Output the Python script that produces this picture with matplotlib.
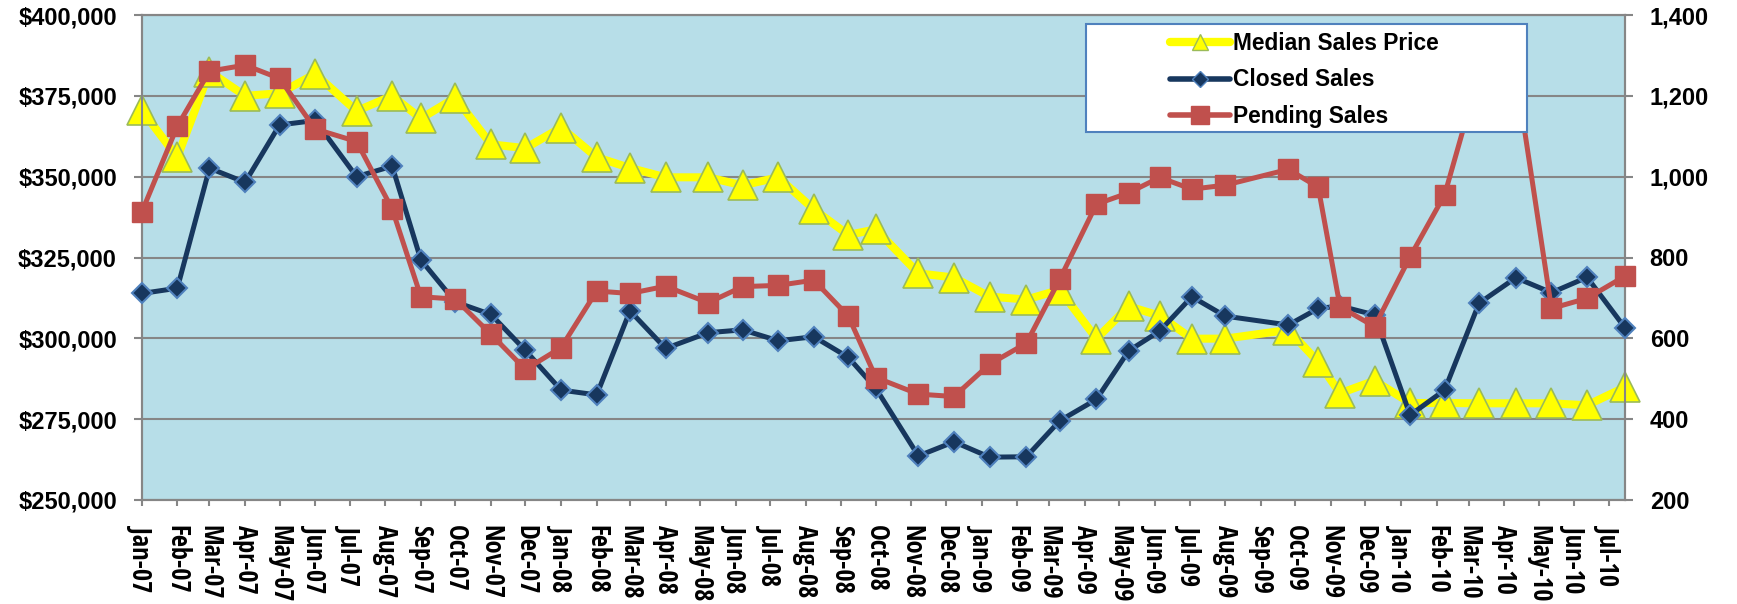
import matplotlib
matplotlib.use('Agg')
import matplotlib.pyplot as plt
import matplotlib.dates as mdates
import matplotlib.font_manager as fm
from matplotlib.lines import Line2D
from matplotlib.patches import Rectangle
from matplotlib.ticker import FuncFormatter
import numpy as np

# data (x positions follow the report dates, not always the 1st)
dates = ['2007-01-01', '2007-02-01', '2007-03-01', '2007-04-01', '2007-05-01', '2007-06-01',
         '2007-07-07', '2007-08-07', '2007-09-01', '2007-10-01', '2007-11-01', '2007-12-01',
         '2008-01-01', '2008-02-01', '2008-03-01', '2008-04-01', '2008-05-08', '2008-06-07',
         '2008-07-08', '2008-08-08', '2008-09-07', '2008-10-01', '2008-11-07', '2008-12-08',
         '2009-01-08', '2009-02-09', '2009-03-10', '2009-04-11', '2009-05-09', '2009-06-05',
         '2009-07-03', '2009-08-01', '2009-09-25', '2009-10-21', '2009-11-09', '2009-12-09',
         '2010-01-09', '2010-02-08', '2010-03-10', '2010-04-11', '2010-05-12', '2010-06-12',
         '2010-07-15']

median_price = [370600, 356000, 382500, 375000, 375800, 381800, 370300, 375000, 368000, 374400,
                360000, 358800, 365200, 356000, 352700, 349800, 349800, 347300, 349800, 339900,
                332000, 333700, 320100, 318800, 312900, 312000, 315000, 299900, 309900, 307000,
                299900, 299900, 302600, 292700, 283000, 286900, 280000, 280000, 279900, 279900,
                279900, 279300, 284900]

closed_sales = [711, 724, 1021, 986, 1128, 1139, 1000, 1026, 794, 690, 659, 570,
                472, 460, 668, 575, 614, 621, 594, 604, 553, 476, 309, 344,
                306, 307, 396, 449, 569, 618, 703, 655, 633, 674, 680, 658,
                410, 472, 687, 750, 713, 751, 626]

pending_sales = [912, 1125, 1261, 1276, 1243, 1118, 1087, 920, 703, 697, 610, 523,
                 577, 717, 711, 729, 688, 728, 731, 744, 655, 503, 462, 456,
                 536, 588, 746, 932, 960, 998, 969, 979, 1018, 974, 678, 629,
                 802, 955, 1255, 1258, 674, 699, 754]

series_names = ['Median Sales Price', 'Closed Sales', 'Pending Sales']

avail = {f.name for f in fm.fontManager.ttflist}


def pick(*names):
    for n in names:
        if n in avail:
            return n
    return None


main_font = pick('Liberation Sans', 'Arial') or 'DejaVu Sans'
narrow_font = pick('Liberation Sans Narrow', 'Open Sans Condensed', 'Roboto Condensed')
xsize = 19 if narrow_font else 14
narrow_font = narrow_font or 'DejaVu Sans'

plt.rcParams['font.family'] = [main_font, 'DejaVu Sans']
plt.rcParams['font.weight'] = 'bold'

x = mdates.datestr2num(dates)
grey = '#868686'

fig = plt.figure(figsize=(17.37, 6.04), dpi=100)
ax1 = fig.add_axes([141.7 / 1737, 104 / 604, 1483.3 / 1737, 485 / 604])
ax1.set_facecolor('#B7DEE8')
ax2 = ax1.twinx()

ax1.plot(x, median_price, color='#FFFF00', lw=5.8, marker='^', ms=21,
         mfc='#FFFF00', mec='#9BBB59', mew=1.2, clip_on=False, zorder=3)
ax2.plot(x, closed_sales, color='#17375E', lw=3.6, marker='D', ms=10,
         mfc='#17375E', mec='#4F81BD', mew=1.5, clip_on=False, zorder=3)
ax2.plot(x, pending_sales, color='#C0504D', lw=3.6, marker='s', ms=14,
         mfc='#C0504D', mec='#C0504D', mew=1, clip_on=False, zorder=4)

ax1.set_xlim(mdates.datestr2num('2007-01-01'), mdates.datestr2num('2010-07-15'))
ax1.set_ylim(250000, 400000)
ax1.set_yticks(np.arange(250000, 400001, 25000))
ax1.yaxis.set_major_formatter(FuncFormatter(lambda v, p: '${:,.0f}'.format(v)))
ax2.set_ylim(200, 1400)
ax2.set_yticks(np.arange(200, 1401, 200))
ax2.yaxis.set_major_formatter(FuncFormatter(lambda v, p: '{:,.0f}'.format(v)))

ax1.xaxis.set_major_locator(mdates.MonthLocator())
ax1.xaxis.set_major_formatter(mdates.DateFormatter('%b-%y'))

ax1.grid(axis='y', color=grey, lw=1.5)
ax1.set_axisbelow(True)

for ax in (ax1, ax2):
    for s in ax.spines.values():
        s.set_color(grey)
        s.set_linewidth(1.5)

ax1.tick_params(axis='y', length=5.8, width=1.5, color=grey, pad=12, labelsize=17)
ax2.tick_params(axis='y', length=5.8, width=1.5, color=grey, pad=12, labelsize=17)
ax1.tick_params(axis='x', length=4.3, width=1.5, color=grey, pad=14,
                labelsize=xsize, labelrotation=-90, labelfontfamily=narrow_font)

# legend box drawn over the plot
box = Rectangle((0.6366, 0.7588), 0.2974, 0.2226, transform=ax2.transAxes,
                facecolor='white', edgecolor='#4F81BD', lw=1.5, zorder=10)
ax2.add_patch(box)
handles = [
    Line2D([], [], color='#FFFF00', lw=6, marker='^', ms=12, mfc='#FFFF00',
           mec='#9BBB59', solid_capstyle='round'),
    Line2D([], [], color='#17375E', lw=4, marker='D', ms=8, mfc='#17375E',
           mec='#4F81BD', solid_capstyle='round'),
    Line2D([], [], color='#C0504D', lw=4, marker='s', ms=13, mfc='#C0504D',
           mec='#C0504D', solid_capstyle='round'),
]
leg = ax2.legend(handles, series_names, loc='center', bbox_to_anchor=(0.784, 0.866),
                 frameon=False, prop={'size': 16.4, 'weight': 'bold'},
                 handlelength=2.6, handletextpad=0.15, labelspacing=0.58)
leg.set_zorder(11)

fig.savefig('out.png', dpi=100)
